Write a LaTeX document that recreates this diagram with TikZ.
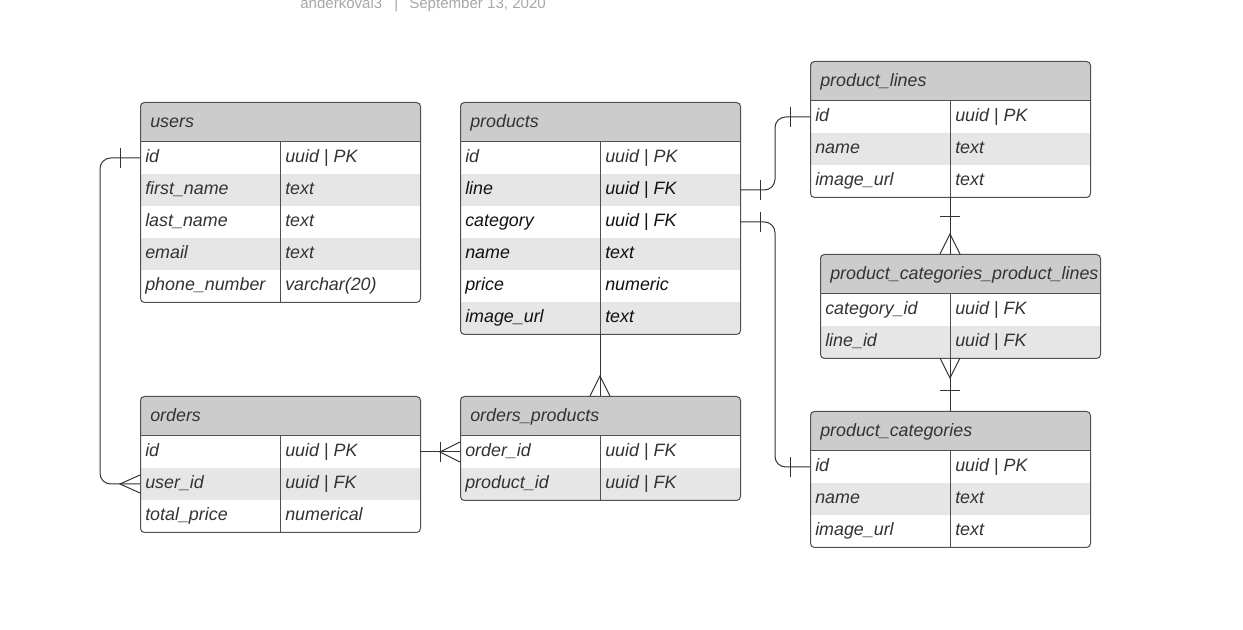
\documentclass[tikz,border=0pt]{standalone}
\usepackage{fontspec}
\setmainfont{Liberation Sans}
\usetikzlibrary{calc}
\definecolor{hdr}{HTML}{CCCCCC}
\definecolor{alt}{HTML}{E6E6E6}
\definecolor{bord}{HTML}{505050}
\definecolor{txt}{HTML}{333333}
\definecolor{dark}{HTML}{111111}
\definecolor{meta}{HTML}{A8A8A8}
\definecolor{linec}{HTML}{333333}
\tikzset{
  conn/.style={draw=linec, line width=0.75pt},
  cell/.style={inner sep=0pt, anchor=base west, text=txt, font=\fontsize{13.4}{16}\selectfont\itshape},
  sep/.style={draw=bord, line width=0.75pt},
  tframe/.style={draw=bord, line width=0.75pt, rounded corners=3pt, inner sep=0pt, anchor=north west},
  metatext/.style={anchor=base west, inner sep=0pt, text=meta, font=\fontsize{11.3}{13}\selectfont},
}
% name, x, y, divider offset, title, rows
\newcommand\erdtable[6]{%
  \gdef\erdn{0}%
  \foreach \f/\t in {#6}{\xdef\erdn{\the\numexpr\erdn+1\relax}}%
  \pgfmathsetmacro\erdh{40+32*\erdn}%
  \begin{scope}
    \clip[rounded corners=3pt] (#2,#3) rectangle ++(280,\erdh);
    \fill[white] (#2,#3) rectangle ++(280,\erdh);
    \fill[hdr] (#2,#3) rectangle ++(280,40);
    \foreach \f/\t [count=\i] in {#6}{%
      \ifodd\i\else\fill[alt] (#2,#3+8+32*\i) rectangle ++(280,32);\fi
    }
  \end{scope}
  \node[tframe, minimum width=210pt, minimum height=\erdh*0.75pt] (#1) at (#2,#3) {};
  \draw[sep] (#2,#3+40) -- ++(280,0);
  \draw[sep] (#2+#4,#3+40) -- (#2+#4,#3+\erdh);
  \coordinate (#1-db) at (#2+#4,#3+\erdh);
  \coordinate (#1-dt) at (#2+#4,#3);
  \node[cell] (#1-title) at (#2+10,#3+26) {#5};
  \foreach \f/\t [count=\i] in {#6}{%
    \node[cell] (#1-f\i) at (#2+5,#3+29+32*\i) {\f};
    \node[cell] (#1-t\i) at (#2+#4+5,#3+29+32*\i) {\t};
    \coordinate (#1-L\i) at (#2,#3+24+32*\i);
    \coordinate (#1-R\i) at (#2+280,#3+24+32*\i);
  }%
}
\newcommand\dk[1]{{\color{dark}#1}}
\begin{document}
\begin{tikzpicture}[x=0.75pt,y=-0.75pt]
\fill[white] (0,0) rectangle (1243,630);
\useasboundingbox (0,0) rectangle (1243,630);

\node[metatext] (meta1) at (300,9) {anderkoval3};
\node[metatext] (meta2) at (394,9) {|};
\node[metatext] (meta3) at (409,9) {September 13, 2020};

\erdtable{users}{140}{102}{140}{users}{id/uuid | PK, first\_name/text, last\_name/text, email/text, phone\_number/varchar(20)}
\erdtable{products}{460}{102}{140}{products}{id/uuid | PK, \dk{line}/\dk{uuid | FK}, \dk{category}/\dk{uuid | FK}, \dk{name}/\dk{text}, \dk{price}/\dk{numeric}, \dk{image\_url}/\dk{text}}
\erdtable{plines}{810}{61}{140}{product\_lines}{id/uuid | PK, name/text, image\_url/text}
\erdtable{pcpl}{820}{254}{130}{product\_categories\_product\_lines}{category\_id/uuid | FK, line\_id/uuid | FK}
\erdtable{pcats}{810}{411}{140}{product\_categories}{id/uuid | PK, name/text, image\_url/text}
\erdtable{orders}{140}{396}{140}{orders}{id/uuid | PK, user\_id/uuid | FK, total\_price/numerical}
\erdtable{ordprod}{460}{396}{140}{orders\_products}{order\_id/uuid | FK, product\_id/uuid | FK}

% users -- orders
\draw[conn, rounded corners=8pt] (users-L1) -- ++(-40,0) |- (orders-L2);
\draw[conn] ($(users-L1)+(-20,-10)$) -- ++(0,20);
\draw[conn] ($(orders-L2)+(0,-9)$) -- ($(orders-L2)+(-20,0)$) -- ($(orders-L2)+(0,9)$);

% orders -- orders_products
\draw[conn] (orders-R1) -- (ordprod-L1);
\draw[conn] ($(ordprod-L1)+(-20,-10)$) -- ++(0,20);
\draw[conn] ($(ordprod-L1)+(0,-10)$) -- ($(ordprod-L1)+(-20,0)$) -- ($(ordprod-L1)+(0,10)$);

% products -- orders_products
\draw[conn] (products-db) -- (ordprod-dt);
\draw[conn] ($(ordprod-dt)+(-10,0)$) -- ($(ordprod-dt)+(0,-20)$) -- ($(ordprod-dt)+(10,0)$);

% products.line -- product_lines.id
\draw[conn, rounded corners=8pt] (products-R2) -- ++(35,0) |- (plines-L1);
\draw[conn] ($(products-R2)+(20,-10)$) -- ++(0,20);
\draw[conn] ($(plines-L1)+(-20,-10)$) -- ++(0,20);

% products.category -- product_categories.id
\draw[conn, rounded corners=8pt] (products-R3) -- ++(35,0) |- (pcats-L1);
\draw[conn] ($(products-R3)+(20,-10)$) -- ++(0,20);
\draw[conn] ($(pcats-L1)+(-20,-10)$) -- ++(0,20);

% product_lines -- pcpl
\draw[conn] (plines-db) -- (pcpl-dt);
\draw[conn] ($(plines-db)+(-10,20)$) -- ++(20,0);
\draw[conn] ($(pcpl-dt)+(-10,0)$) -- ($(pcpl-dt)+(0,-20)$) -- ($(pcpl-dt)+(10,0)$);

% pcpl -- product_categories
\draw[conn] (pcpl-db) -- (pcats-dt);
\draw[conn] ($(pcpl-db)+(-10,0)$) -- ($(pcpl-db)+(0,20)$) -- ($(pcpl-db)+(10,0)$);
\draw[conn] ($(pcats-dt)+(-10,-20)$) -- ++(20,0);
\end{tikzpicture}
\end{document}
